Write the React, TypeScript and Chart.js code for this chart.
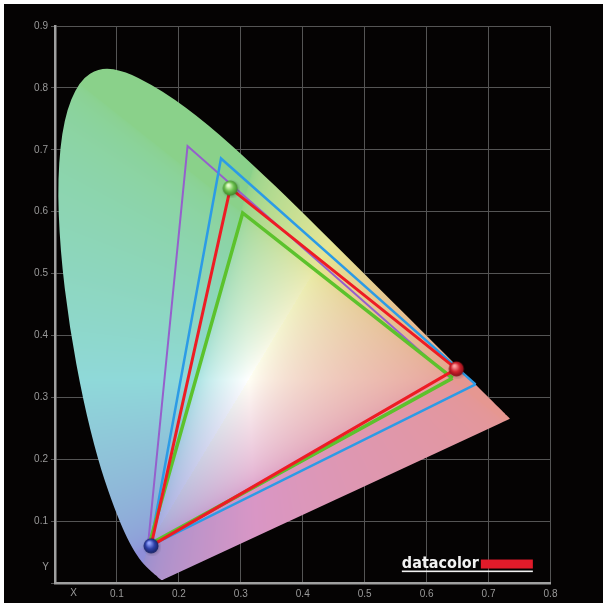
import React, { useEffect, useRef } from "react";
import { Chart, registerables } from "chart.js";

Chart.register(...registerables);

// CIE 1931 spectral locus (380–700 nm, 5 nm steps)
const locusX = [
  0.1741, 0.174, 0.1738, 0.1736, 0.1733, 0.173, 0.1726, 0.1721, 0.1714, 0.1703,
  0.1689, 0.1669, 0.1644, 0.1611, 0.1566, 0.151, 0.144, 0.1355, 0.1241, 0.1096,
  0.0913, 0.0687, 0.0454, 0.0235, 0.0082, 0.0039, 0.0139, 0.0389, 0.0743, 0.1142,
  0.1547, 0.1929, 0.2296, 0.2658, 0.3016, 0.3373, 0.3731, 0.4087, 0.4441, 0.4788,
  0.5125, 0.5448, 0.5752, 0.6029, 0.627, 0.6482, 0.6658, 0.6801, 0.6915, 0.7006,
  0.7079, 0.714, 0.719, 0.723, 0.726, 0.7283, 0.73, 0.7311, 0.732, 0.7327,
  0.7334, 0.734, 0.7344, 0.7346, 0.7347,
];
const locusY = [
  0.005, 0.005, 0.0049, 0.0049, 0.0048, 0.0048, 0.0048, 0.0048, 0.0051, 0.0058,
  0.0069, 0.0086, 0.0109, 0.0138, 0.0177, 0.0227, 0.0297, 0.0399, 0.0578, 0.0868,
  0.1327, 0.2007, 0.295, 0.4127, 0.5384, 0.6548, 0.7502, 0.812, 0.8338, 0.8262,
  0.8059, 0.7816, 0.7543, 0.7243, 0.6923, 0.6589, 0.6245, 0.5896, 0.5547, 0.5202,
  0.4866, 0.4544, 0.4242, 0.3965, 0.3725, 0.3514, 0.334, 0.3197, 0.3083, 0.2993,
  0.292, 0.2859, 0.2809, 0.277, 0.274, 0.2717, 0.27, 0.2689, 0.268, 0.2673,
  0.2666, 0.266, 0.2656, 0.2654, 0.2653,
];

// Gamut triangles (R, G, B primaries)
const adobeX = [0.64, 0.214, 0.15];
const adobeY = [0.33, 0.706, 0.06];
const p3X = [0.679, 0.268, 0.154];
const p3Y = [0.321, 0.686, 0.06];
const srgbX = [0.642, 0.303, 0.152];
const srgbY = [0.331, 0.598, 0.062];
const displayX = [0.648, 0.283, 0.155];
const displayY = [0.346, 0.638, 0.06];

const xTickLabels = ["", "0.1", "0.2", "0.3", "0.4", "0.5", "0.6", "0.7", "0.8"];
const yTickLabels = ["", "0.1", "0.2", "0.3", "0.4", "0.5", "0.6", "0.7", "0.8", "0.9"];
const axisNames = ["X", "Y"];
const logoText = "datacolor";

const pts = (xs: number[], ys: number[], close = true) => {
  const a = xs.map((x, i) => ({ x, y: ys[i] }));
  if (close) a.push({ x: xs[0], y: ys[0] });
  return a;
};

function chroma(x: number, y: number): [number, number, number] {
  const yy = Math.max(y, 0.002);
  const X = x / yy;
  const Y = 1;
  const Z = (1 - x - y) / yy;
  let r = 3.2406 * X - 1.5372 * Y - 0.4986 * Z;
  let g = -0.9689 * X + 1.8758 * Y + 0.0415 * Z;
  let b = 0.0557 * X - 0.204 * Y + 1.057 * Z;
  r = Math.max(r, 0);
  g = Math.max(g, 0);
  b = Math.max(b, 0);
  const m = Math.max(r, g, b, 1e-6);
  r = Math.pow(r / m, 1 / 2.2);
  g = Math.pow(g / m, 1 / 2.2);
  b = Math.pow(b / m, 1 / 2.2);
  const mx = Math.max(r, g, b);
  const mn = Math.min(r, g, b);
  const sat = 1 - mn / mx;
  const gdom = Math.max(0, g - Math.max(r, b));
  const L = 0.9 - 0.08 * gdom - 0.05 * b * sat + 0.1 * (1 - sat);
  const a = 0.66;
  const mag = Math.min(r, b) * (1 - g); // magenta amount
  const bScale = (r > g ? 0.96 : 1) - 0.05 * mag;
  return [
    255 * (a + (1 - a) * r) * L,
    255 * (a + (1 - a) * g) * L * (1 + 0.05 * mag),
    255 * (a + (1 - a) * b) * L * bScale,
  ];
}

function makeBall(base: string, light: string, dark: string) {
  const c = document.createElement("canvas");
  c.width = 20;
  c.height = 20;
  const g = c.getContext("2d")!;
  const sh = g.createRadialGradient(11, 11, 4, 11, 11, 10);
  sh.addColorStop(0, "rgba(0,0,0,0.25)");
  sh.addColorStop(1, "rgba(0,0,0,0)");
  g.fillStyle = sh;
  g.beginPath();
  g.arc(11, 11, 10, 0, Math.PI * 2);
  g.fill();
  const grad = g.createRadialGradient(8, 7, 1, 10, 10, 8);
  grad.addColorStop(0, light);
  grad.addColorStop(0.5, base);
  grad.addColorStop(1, dark);
  g.fillStyle = grad;
  g.beginPath();
  g.arc(10, 10, 7.5, 0, Math.PI * 2);
  g.fill();
  return c;
}

const frame = {
  id: "frame",
  beforeDraw(chart: any) {
    const { ctx, width, height } = chart;
    ctx.save();
    ctx.fillStyle = "#ffffff";
    ctx.fillRect(0, 0, width, height);
    ctx.fillStyle = "#050303";
    ctx.fillRect(4, 4, width - 10, height - 4);
    ctx.restore();
  },
};

const gamutFill = {
  id: "gamutFill",
  beforeDatasetsDraw(chart: any) {
    const { ctx, chartArea, scales } = chart;
    const meta = chart.getDatasetMeta(0);
    const el = meta.data;
    if (!el || !el.length) return;
    const left = Math.floor(chartArea.left);
    const top = Math.floor(chartArea.top);
    const w = Math.ceil(chartArea.right) - left;
    const h = Math.ceil(chartArea.bottom) - top;
    const off = document.createElement("canvas");
    off.width = chart.width;
    off.height = chart.height;
    const octx = off.getContext("2d")!;
    const img = octx.createImageData(w, h);
    for (let j = 0; j < h; j++) {
      const cy = scales.y.getValueForPixel(top + j + 0.5);
      for (let i = 0; i < w; i++) {
        const cx = scales.x.getValueForPixel(left + i + 0.5);
        const [r, g, b] = chroma(cx, cy);
        const k = (j * w + i) * 4;
        img.data[k] = r;
        img.data[k + 1] = g;
        img.data[k + 2] = b;
        img.data[k + 3] = 255;
      }
    }
    octx.putImageData(img, left, top);
    // smooth closed path through the locus points
    const p = el.map((e: any) => ({ x: e.x, y: e.y }));
    p.push(p[0]);
    ctx.save();
    ctx.beginPath();
    const n = p.length;
    const mid = (a: any, b: any) => ({ x: (a.x + b.x) / 2, y: (a.y + b.y) / 2 });
    const m0 = mid(p[n - 2], p[0]);
    ctx.moveTo(m0.x, m0.y);
    for (let i = 0; i < n - 1; i++) {
      const m = mid(p[i], p[i + 1]);
      ctx.quadraticCurveTo(p[i].x, p[i].y, m.x, m.y);
    }
    ctx.closePath();
    ctx.fillStyle = ctx.createPattern(off, "no-repeat");
    ctx.fill();
    ctx.restore();
  },
};

const decorations = {
  id: "decorations",
  afterDraw(chart: any) {
    const { ctx, scales } = chart;
    ctx.save();
    ctx.fillStyle = "#9a9a9a";
    ctx.font = "10px 'Liberation Sans', Arial, sans-serif";
    ctx.textAlign = "center";
    ctx.textBaseline = "middle";
    ctx.fillText(axisNames[0], scales.x.getPixelForValue(0.03), 593);
    ctx.textAlign = "right";
    ctx.fillText(axisNames[1], 49, scales.y.getPixelForValue(0.026));
    // logo
    const lx = scales.x.getPixelForValue(0.56);
    const base = scales.y.getPixelForValue(0.025);
    ctx.font = "bold 16px 'DejaVu Sans', sans-serif";
    ctx.textAlign = "left";
    ctx.textBaseline = "alphabetic";
    ctx.fillStyle = "#f2f2f2";
    ctx.fillText(logoText, lx, base, 77);
    ctx.fillStyle = "#e11b2a";
    ctx.fillRect(lx + 79, base - 8, 52, 9);
    ctx.fillStyle = "#f2f2f2";
    ctx.fillRect(lx, base + 3, 131, 1.6);
    ctx.restore();
  },
};

export default function App() {
  const ref = useRef<HTMLCanvasElement>(null);
  useEffect(() => {
    document.body.style.margin = "0";
    document.body.style.background = "#ffffff";
    const red = makeBall("#d0222e", "#ffa0a0", "#7a0c14");
    const green = makeBall("#6cc24e", "#e8ffd0", "#3a8026");
    const blue = makeBall("#2e40a8", "#94a4ff", "#141e5a");
    const chart = new Chart(ref.current!, {
      type: "scatter",
      data: {
        datasets: [
          {
            label: "locus",
            data: pts(locusX, locusY, false),
            showLine: false,
            pointRadius: 0,
            borderWidth: 0,
            order: 9,
          },
          {
            label: "Adobe RGB",
            data: pts(adobeX, adobeY),
            showLine: true,
            borderColor: "#9560cc",
            borderWidth: 2,
            pointRadius: 0,
            tension: 0,
            order: 5,
          },
          {
            label: "DCI-P3",
            data: pts(p3X, p3Y),
            showLine: true,
            borderColor: "#2c9be6",
            borderWidth: 2.5,
            pointRadius: 0,
            tension: 0,
            order: 4,
          },
          {
            label: "sRGB",
            data: pts(srgbX, srgbY),
            showLine: true,
            borderColor: "#5cc22c",
            borderWidth: 3.5,
            pointRadius: 0,
            tension: 0,
            order: 3,
          },
          {
            label: "Display",
            data: pts(displayX, displayY),
            showLine: true,
            borderColor: "#ee1c24",
            borderWidth: 3,
            pointRadius: 0,
            tension: 0,
            order: 2,
          },
          {
            label: "Primaries",
            data: pts(displayX, displayY, false),
            showLine: false,
            pointStyle: [red, green, blue] as any,
            pointRadius: 8,
            order: 1,
          },
        ],
      },
      options: {
        animation: false,
        responsive: false,
        layout: { padding: { left: 0, top: 26, right: 58.5, bottom: 0 } },
        plugins: { legend: { display: false }, tooltip: { enabled: false } },
        scales: {
          x: {
            type: "linear",
            min: 0,
            max: 0.8,
            afterFit: (s: any) => {
              s.height = 20;
            },
            ticks: {
              stepSize: 0.1,
              color: "#9a9a9a",
              padding: 5,
              font: { size: 10, family: "'Liberation Sans', Arial, sans-serif" },
              callback: (_v: any, i: number) => xTickLabels[i],
            },
            grid: { color: "#555555", lineWidth: 1, drawTicks: false },
            border: { color: "#a0a0a0", width: 2.5 },
          },
          y: {
            type: "linear",
            min: 0,
            max: 0.9,
            afterFit: (s: any) => {
              s.width = 55;
            },
            ticks: {
              stepSize: 0.1,
              color: "#9a9a9a",
              padding: 3,
              font: { size: 10, family: "'Liberation Sans', Arial, sans-serif" },
              callback: (_v: any, i: number) => yTickLabels[i],
            },
            grid: { color: "#555555", lineWidth: 1, drawTicks: true, tickLength: 4 },
            border: { color: "#a0a0a0", width: 2.5 },
          },
        },
      },
      plugins: [frame, gamutFill, decorations],
    });
    return () => chart.destroy();
  }, []);
  return <canvas ref={ref} width={609} height={603} style={{ display: "block" }} />;
}
